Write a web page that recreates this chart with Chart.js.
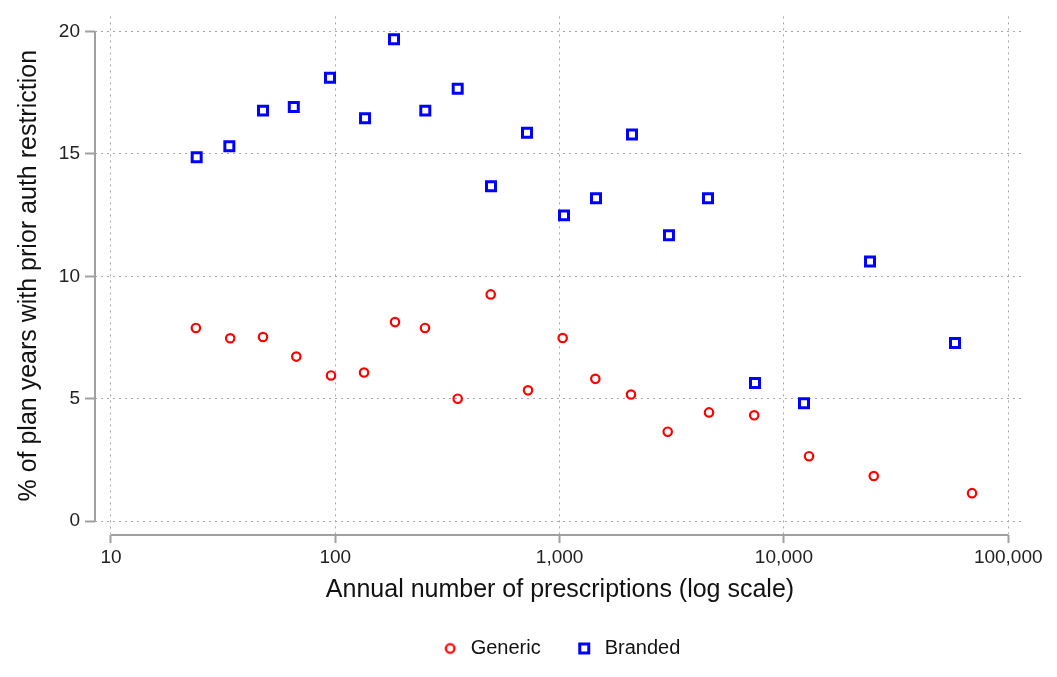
<!DOCTYPE html>
<html><head><meta charset="utf-8">
<script src="https://cdn.jsdelivr.net/npm/chart.js@4.4.1/dist/chart.umd.min.js"></script>
<style>html,body{margin:0;padding:0;background:#fff;} #wrap{width:1057px;height:677px;position:relative;}</style>
</head><body><div id="wrap"><canvas id="c" width="1057" height="677"></canvas></div>
<script>
const seriesNames = ['Generic', 'Branded'];
const genericX = [23.9, 34.0, 47.6, 67.0, 95.7, 134.3, 184.6, 251.1, 351.3, 493, 723, 1032, 1443, 2081, 3033, 4636, 7371, 12940, 25150, 68970];
const genericY = [7.89, 7.47, 7.52, 6.72, 5.95, 6.07, 8.13, 7.89, 5.00, 9.26, 5.34, 7.48, 5.81, 5.17, 3.65, 4.44, 4.32, 2.65, 1.84, 1.14];
const brandedX = [24.1, 33.7, 47.6, 65.3, 94.7, 135.7, 182.7, 251.9, 351.3, 494.6, 715.5, 1046, 1453, 2102, 3073, 4587, 7432, 12291, 24207, 57920];
const brandedY = [14.86, 15.31, 16.77, 16.92, 18.11, 16.46, 19.69, 16.77, 17.66, 13.68, 15.87, 12.49, 13.19, 15.79, 11.68, 13.19, 5.64, 4.81, 10.61, 7.28];
const xTickValues = [10, 100, 1000, 10000, 100000];
const xTickLabels = ['10', '100', '1,000', '10,000', '100,000'];
const yTickValues = [0, 5, 10, 15, 20];
const yTickLabels = ['0', '5', '10', '15', '20'];
const xTitle = 'Annual number of prescriptions (log scale)';
const yTitle = '% of plan years with prior auth restriction';

const FONT = "'Liberation Sans', Arial, Helvetica, sans-serif";
const RED = '#ff0000', BLUE = '#0000ff';

function makeIcon(kind, color) {
  const c = document.createElement('canvas');
  c.width = 16; c.height = 16;
  const g = c.getContext('2d');
  g.strokeStyle = color;
  if (kind === 'circle') {
    g.lineWidth = 2.3; g.beginPath(); g.arc(8, 8, 4.3, 0, Math.PI * 2); g.stroke();
  } else {
    g.lineWidth = 3; g.strokeRect(3.5, 3.5, 9, 9);
  }
  return c;
}
const icons = [makeIcon('circle', RED), makeIcon('rect', BLUE)];

const axisLines = {
  id: 'axisLines',
  beforeDatasetsDraw(chart) {
    const {ctx, chartArea, scales} = chart;
    const xs = scales.x, ys = scales.y;
    ctx.save();
    ctx.strokeStyle = '#a0a0a0';
    ctx.lineWidth = 2;
    ctx.beginPath();
    ctx.moveTo(xs.getPixelForValue(xTickValues[0]), chartArea.bottom);
    ctx.lineTo(xs.getPixelForValue(xTickValues[xTickValues.length - 1]), chartArea.bottom);
    ctx.moveTo(chartArea.left, ys.getPixelForValue(yTickValues[0]));
    ctx.lineTo(chartArea.left, ys.getPixelForValue(yTickValues[yTickValues.length - 1]));
    ctx.stroke();
    ctx.restore();
  }
};

const gridCommon = {color: '#a8a8a8', lineWidth: 1, borderDash: [2, 4], tickColor: '#a0a0a0', tickWidth: 2, tickBorderDash: []};

new Chart(document.getElementById('c'), {
  type: 'scatter',
  data: {
    datasets: [
      {label: seriesNames[0], data: genericX.map((x, i) => ({x: x, y: genericY[i]})),
       pointStyle: 'circle', pointRadius: 4.2, pointHoverRadius: 4.2, borderWidth: 2.2,
       borderColor: RED, backgroundColor: 'rgba(0,0,0,0)'},
      {label: seriesNames[1], data: brandedX.map((x, i) => ({x: x, y: brandedY[i]})),
       pointStyle: 'rect', pointRadius: 6.36, pointHoverRadius: 6.36, borderWidth: 3,
       borderColor: BLUE, backgroundColor: 'rgba(0,0,0,0)'}
    ]
  },
  options: {
    responsive: false,
    animation: false,
    layout: {padding: {top: 14, right: 32, left: 0, bottom: 8.5}},
    plugins: {
      tooltip: {enabled: false},
      legend: {
        position: 'bottom', fullSize: false, maxHeight: 71.6,
        labels: {
          usePointStyle: true, pointStyleWidth: 21, boxHeight: 12, padding: 33,
          font: {family: FONT, size: 20}, color: '#111',
          generateLabels: chart => chart.data.datasets.map((d, i) => ({
            text: d.label, pointStyle: icons[i], fillStyle: 'rgba(0,0,0,0)', strokeStyle: d.borderColor,
            lineWidth: 0, hidden: false, datasetIndex: i, fontColor: '#111'
          }))
        }
      }
    },
    scales: {
      x: {
        type: 'logarithmic', position: 'bottom', min: 8.486, max: 118800,
        afterBuildTicks: s => { s.ticks = xTickValues.map(v => ({value: v})); },
        afterFit: s => { s.height = 70.4; },
        ticks: {callback: (v, i) => xTickLabels[i], autoSkip: false, maxRotation: 0, padding: 3,
                font: {family: FONT, size: 19}, color: '#222'},
        grid: Object.assign({}, gridCommon, {tickLength: 8}),
        border: {display: false, dash: [2, 4]},
        title: {display: true, text: xTitle, color: '#111', font: {family: FONT, size: 25}, padding: {top: 0, bottom: 0}}
      },
      y: {
        min: -0.574, max: 20.62,
        afterBuildTicks: s => { s.ticks = yTickValues.map(v => ({value: v})); },
        afterFit: s => { s.width = 95; },
        ticks: {callback: (v, i) => yTickLabels[i], padding: 5, autoSkip: false,
                font: {family: FONT, size: 19}, color: '#222'},
        grid: Object.assign({}, gridCommon, {tickLength: 10}),
        border: {display: false, dash: [2, 4]},
        title: {display: true, text: yTitle, color: '#111', font: {family: FONT, size: 25}, padding: {top: 14, bottom: 0}}
      }
    }
  },
  plugins: [axisLines]
});
</script>
</body></html>
